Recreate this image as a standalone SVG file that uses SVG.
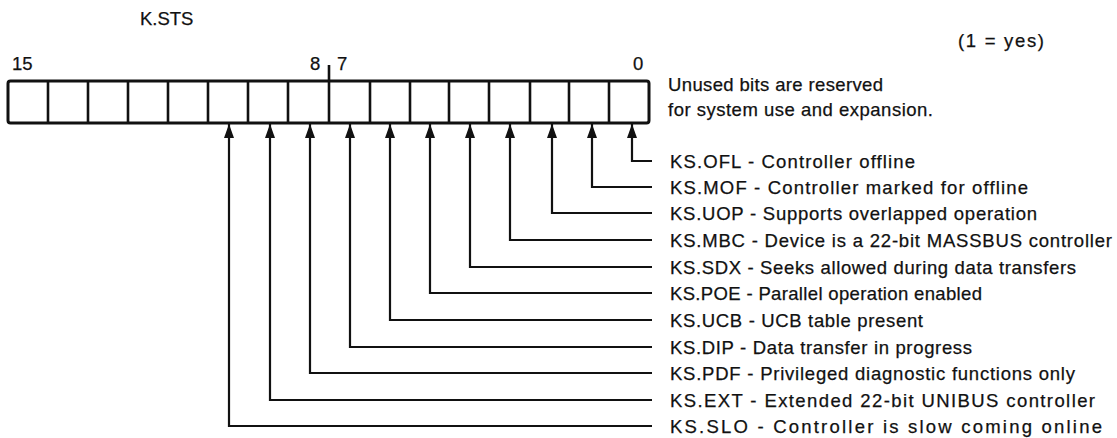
<svg xmlns="http://www.w3.org/2000/svg" width="1117" height="438" viewBox="0 0 1117 438">
<style>
.t{font-family:"Liberation Sans",Arial,sans-serif;font-size:18.5px;fill:#111;stroke:#111;stroke-width:0.25}
.c{fill:none;stroke:#111;stroke-width:2.2}
.d{stroke:#111;stroke-width:2.6}
</style>
<defs>
<marker id="ah" markerUnits="userSpaceOnUse" markerWidth="14" markerHeight="10" refX="14" refY="5" orient="auto" viewBox="0 0 14 10">
<path d="M0,0 L14,5 L0,10 Z" fill="#111"/>
</marker>
</defs>
<rect width="1117" height="438" fill="#fff"/>
<g id="titles">
<text class="t" x="140" y="25">K.STS</text>
<text class="t" x="958" y="47" textLength="86">(1 = yes)</text>
<text class="t" x="12" y="70">15</text>
<text class="t" x="310" y="70">8</text>
<text class="t" x="337" y="70">7</text>
<text class="t" x="633" y="70">0</text>
</g>
<g id="register">
<rect x="8" y="81" width="641" height="42" rx="2.5" fill="#fff" stroke="#111" stroke-width="3"/>
<line class="d" x1="48" y1="82" x2="48" y2="123"/>
<line class="d" x1="88" y1="82" x2="88" y2="123"/>
<line class="d" x1="128" y1="82" x2="128" y2="123"/>
<line class="d" x1="168" y1="82" x2="168" y2="123"/>
<line class="d" x1="208" y1="82" x2="208" y2="123"/>
<line class="d" x1="248" y1="82" x2="248" y2="123"/>
<line class="d" x1="288" y1="82" x2="288" y2="123"/>
<line class="d" x1="329" y1="65" x2="329" y2="123"/>
<line class="d" x1="370" y1="82" x2="370" y2="123"/>
<line class="d" x1="410" y1="82" x2="410" y2="123"/>
<line class="d" x1="449" y1="82" x2="449" y2="123"/>
<line class="d" x1="489" y1="82" x2="489" y2="123"/>
<line class="d" x1="530" y1="82" x2="530" y2="123"/>
<line class="d" x1="569" y1="82" x2="569" y2="123"/>
<line class="d" x1="609" y1="82" x2="609" y2="123"/>
</g>
<g id="note">
<text class="t" x="668" y="91" textLength="215">Unused bits are reserved</text>
<text class="t" x="668" y="116" textLength="265">for system use and expansion.</text>
</g>
<g id="connectors">
<path class="c" marker-end="url(#ah)" d="M652,161 H632 V124"/>
<path class="c" marker-end="url(#ah)" d="M652,187 H592 V124"/>
<path class="c" marker-end="url(#ah)" d="M652,213 H552 V124"/>
<path class="c" marker-end="url(#ah)" d="M652,240 H510 V124"/>
<path class="c" marker-end="url(#ah)" d="M652,267 H470 V124"/>
<path class="c" marker-end="url(#ah)" d="M652,293 H430 V124"/>
<path class="c" marker-end="url(#ah)" d="M652,320 H390 V124"/>
<path class="c" marker-end="url(#ah)" d="M652,347 H350 V124"/>
<path class="c" marker-end="url(#ah)" d="M652,373 H310 V124"/>
<path class="c" marker-end="url(#ah)" d="M652,400 H270 V124"/>
<path class="c" marker-end="url(#ah)" d="M652,426 H229 V124"/>
</g>
<g id="labels">
<text id="ofl" class="t" x="670" y="168" textLength="245">KS.OFL - Controller offline</text>
<text id="mof" class="t" x="670" y="194" textLength="358">KS.MOF - Controller marked for offline</text>
<text id="uop" class="t" x="670" y="220" textLength="367">KS.UOP - Supports overlapped operation</text>
<text id="mbc" class="t" x="670" y="247" textLength="442">KS.MBC - Device is a 22-bit MASSBUS controller</text>
<text id="sdx" class="t" x="670" y="274" textLength="406">KS.SDX - Seeks allowed during data transfers</text>
<text id="poe" class="t" x="670" y="300" textLength="312">KS.POE - Parallel operation enabled</text>
<text id="ucb" class="t" x="670" y="327" textLength="253">KS.UCB - UCB table present</text>
<text id="dip" class="t" x="670" y="354" textLength="302">KS.DIP - Data transfer in progress</text>
<text id="pdf" class="t" x="670" y="380" textLength="405">KS.PDF - Privileged diagnostic functions only</text>
<text id="ext" class="t" x="670" y="407" textLength="425">KS.EXT - Extended 22-bit UNIBUS controller</text>
<text id="slo" class="t" x="670" y="433" textLength="432">KS.SLO - Controller is slow coming online</text>
</g>
</svg>
